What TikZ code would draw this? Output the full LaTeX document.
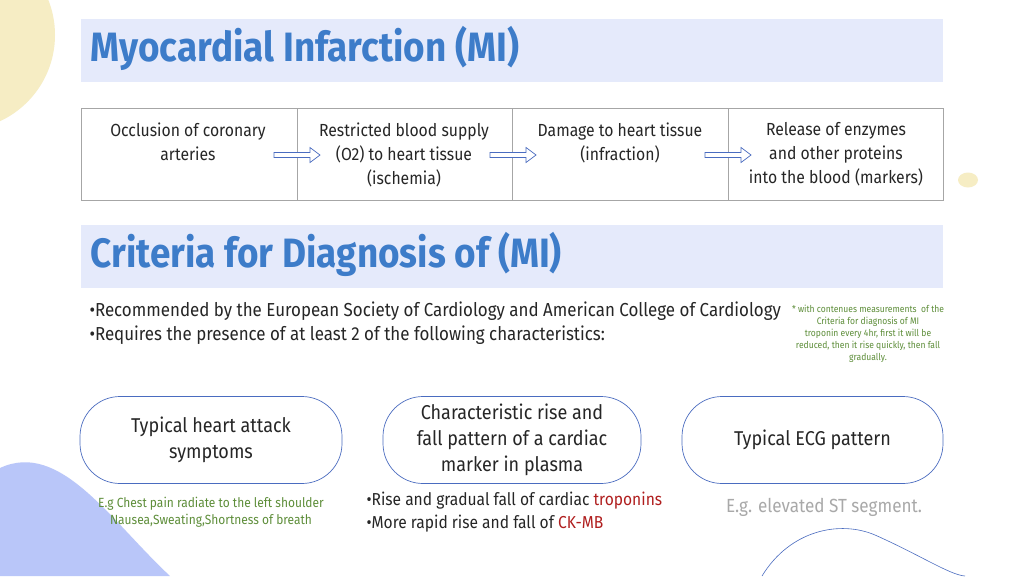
\documentclass[tikz,border=0pt]{standalone}
\usepackage{fontspec}
\setmainfont{Fira Sans}
\newfontfamily\cond{Fira Sans}[FakeStretch=0.9]
\definecolor{band}{HTML}{E5EAFB}
\definecolor{ttl}{HTML}{3D7CC9}
\definecolor{ylw}{HTML}{F6EDC4}
\definecolor{blob}{HTML}{B9C6F9}
\definecolor{bord}{HTML}{4A6CC0}
\definecolor{grn}{HTML}{5E8E3A}
\definecolor{rd}{HTML}{B01E1E}
\definecolor{gry}{HTML}{A9A9A9}
\definecolor{txt}{HTML}{262626}
\begin{document}
\begin{tikzpicture}[x=1pt,y=-1pt,
  body/.style={font=\cond\fontsize{17.5}{24}\selectfont,text=txt,align=center},
  cell/.style={draw=gray!70,line width=0.6pt,minimum width=215.5pt,minimum height=92pt,anchor=north west,inner sep=0pt},
  ttlx/.style={font=\cond\bfseries\fontsize{41}{44}\selectfont,text=ttl,anchor=west},
  pill/.style={draw=bord,line width=0.7pt,rounded corners=40pt,minimum height=87pt,body,font=\cond\fontsize{20}{26}\selectfont},
  harrow/.style={draw=bord,fill=white,line width=0.7pt,line join=miter}]
\useasboundingbox (0,0) rectangle (1024,576);
\fill[white] (0,0) rectangle (1024,576);
\fill[ylw] (-40,35) circle (95);
\fill[ylw] (968,180) ellipse (10 and 7.5);
\fill[blob] (0,468) .. controls (60,440) and (110,520) .. (170,576) -- (0,576) -- cycle;
\draw[bord,line width=0.6pt] (762,576) .. controls (790,530) and (840,520) .. (875,535) .. controls (920,555) and (950,575) .. (965,576);
% band 1
\fill[band] (81,19) rectangle (943,82);
\node[ttlx] (t1) at (87,48) {Myocardial Infarction (MI)};
% table
\node[cell] (c1) at (81,108) {};
\node[cell] (c2) at (296.5,108) {};
\node[cell] (c3) at (512,108) {};
\node[cell] (c4) at (727.5,108) {};
\node[body,anchor=north] (x1) at (188,119) {Occlusion of coronary\\arteries};
\node[body,anchor=north] (x2) at (404,119) {Restricted blood supply\\(O2) to heart tissue\\(ischemia)};
\node[body,anchor=north] (x3) at (620,119) {Damage to heart tissue\\(infraction)};
\node[body,anchor=north] (x4) at (836,119) {Release of enzymes\\and other proteins\\into the blood (markers)};
\coordinate (a1s) at (274,155);
\coordinate (a2s) at (490,155);
\coordinate (a3s) at (705,155);
\foreach \a in {a1s,a2s,a3s}
  \draw[harrow] (\a) ++(0,-2.5) -- ++(36,0) -- ++(0,-5) -- ++(10,7.5) -- ++(-10,7.5) -- ++(0,-5) -- ++(-36,0) -- cycle;
% band 2
\fill[band] (81,225) rectangle (943,288);
\node[ttlx] (t2) at (87,254) {Criteria for Diagnosis of (MI)};
\node[body,align=left,anchor=north west,font=\cond\fontsize{18.8}{24}\selectfont] (bl) at (86,298) {•Recommended by the European Society of Cardiology and American College of Cardiology\\•Requires the presence of at least 2 of the following characteristics:};
\node[font=\cond\fontsize{9.5}{12}\selectfont,text=grn,align=center] (note) at (868,334) {* with contenues measurements\ \ of the\\Criteria for diagnosis of MI\\troponin every 4hr, first it will be\\reduced, then it rise quickly, then fall\\gradually.};
% pills
\node[pill,minimum width=262pt] (p1) at (211,440) {Typical heart attack\\symptoms};
\node[pill,minimum width=258pt] (p2) at (512,440) {Characteristic rise and\\fall pattern of a cardiac\\marker in plasma};
\node[pill,minimum width=261pt] (p3) at (812.5,440) {Typical ECG pattern};
\node[font=\cond\fontsize{13.3}{17}\selectfont,text=grn,align=center] (g1) at (211,512) {E.g Chest pain radiate to the left shoulder\\Nausea,Sweating,Shortness of breath};
\node[body,align=left,anchor=north west,font=\cond\fontsize{17.3}{23}\selectfont] (g2) at (363,488) {•Rise and gradual fall of cardiac \textcolor{rd}{troponins}\\•More rapid rise and fall of \textcolor{rd}{CK-MB}};
\node[font=\cond\fontsize{19}{20}\selectfont,text=gry] (g3) at (824,507) {E.g. elevated ST segment.};
\end{tikzpicture}
\end{document}
